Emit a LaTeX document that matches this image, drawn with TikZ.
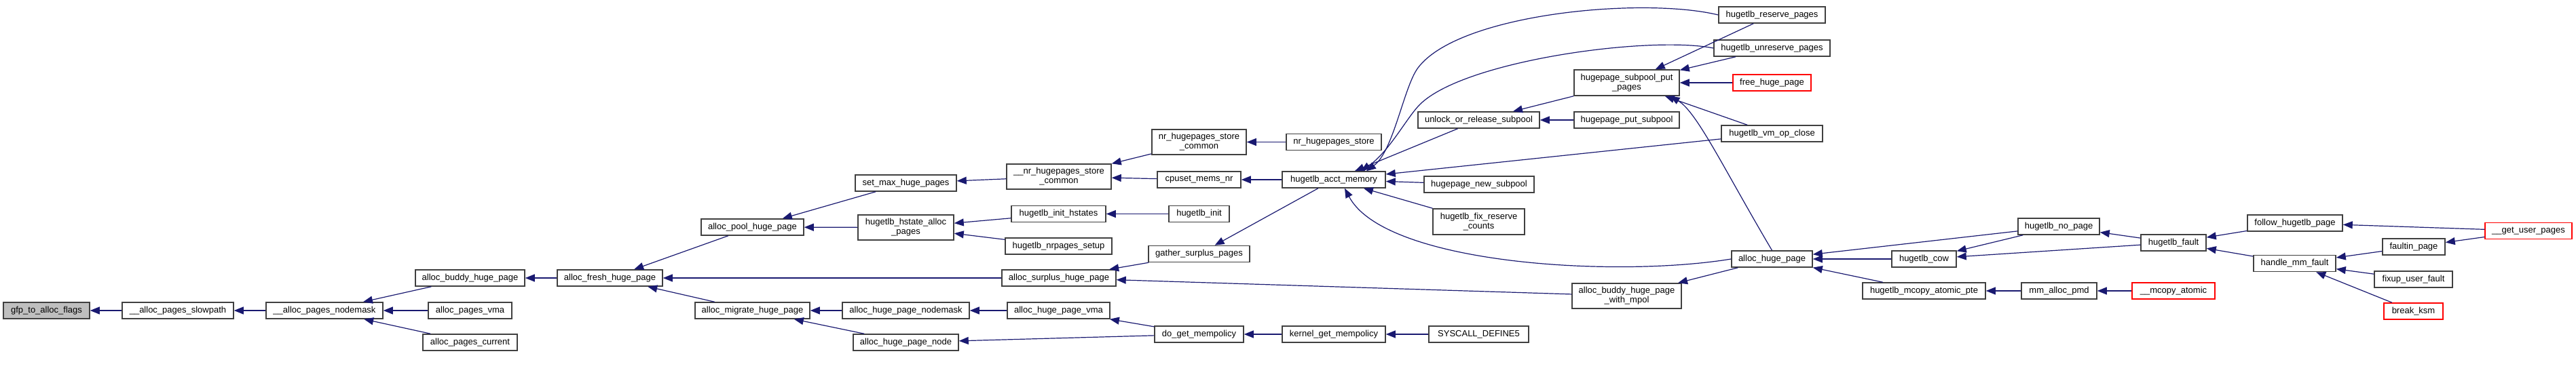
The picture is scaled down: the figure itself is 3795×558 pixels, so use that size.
\documentclass[tikz,border=0pt]{standalone}
\usepackage{fontspec}
\setmainfont{Liberation Sans}
\usepackage{tikz}
\usepackage{xcolor}
\usetikzlibrary{arrows.meta}

\definecolor{midnight}{HTML}{191970}

\begin{document}
\begin{tikzpicture}[x=1pt, y=-1pt,
    fn/.style={draw=black!75, line width=1.5pt, fill=white, inner sep=0pt,
      minimum height=24pt, align=center, font=\fontsize{13pt}{14pt}\selectfont},
    fnroot/.style={fn, fill=black!25},
    fnred/.style={fn, draw=red},
    call/.style={draw=midnight, line width=1.2pt, -{Triangle[length=14pt,width=11pt]}}]

    \useasboundingbox (0,0) rectangle (3795,558);

    % Function boxes, from the callee on the left to the callers on the right
    \node[fnroot, minimum width=127pt] (gfp) at (68.5,458) {gfp\_to\_alloc\_flags};
    \node[fn, minimum width=164pt] (slowpath) at (262,458) {\_\_alloc\_pages\_slowpath};
    \node[fn, minimum width=172pt] (nodemask) at (478,458) {\_\_alloc\_pages\_nodemask};
    \node[fn, minimum width=161pt] (buddy) at (692.5,410) {alloc\_buddy\_huge\_page};
    \node[fn, minimum width=123pt] (pvma) at (692.5,458) {alloc\_pages\_vma};
    \node[fn, minimum width=139pt] (pcurrent) at (692.5,505) {alloc\_pages\_current};
    \node[fn, minimum width=155pt] (fresh) at (898.5,410) {alloc\_fresh\_huge\_page};
    \node[fn, minimum width=151pt] (pool) at (1108.5,335) {alloc\_pool\_huge\_page};
    \node[fn, minimum width=169pt] (migrate) at (1108.5,458) {alloc\_migrate\_huge\_page};
    \node[fn, minimum width=149pt] (setmax) at (1334.5,270) {set\_max\_huge\_pages};
    \node[fn, minimum width=141pt, minimum height=37pt] (hstate) at (1334.5,335.5) {hugetlb\_hstate\_alloc\\\_pages};
    \node[fn, minimum width=187pt] (hpnodemask) at (1334.5,458) {alloc\_huge\_page\_nodemask};
    \node[fn, minimum width=155pt] (hpnode) at (1334.5,505) {alloc\_huge\_page\_node};
    \node[fn, minimum width=154pt, minimum height=37pt] (nrcommon) at (1560,260.5) {\_\_nr\_hugepages\_store\\\_common};
    \node[fn, minimum width=139pt] (inithstates) at (1559.5,315.5) {hugetlb\_init\_hstates};
    \node[fn, minimum width=157pt] (nrsetup) at (1559.5,363) {hugetlb\_nrpages\_setup};
    \node[fn, minimum width=168pt] (surplus) at (1560,410) {alloc\_surplus\_huge\_page};
    \node[fn, minimum width=151pt] (hpvma) at (1559.5,458) {alloc\_huge\_page\_vma};
    \node[fn, minimum width=139pt, minimum height=37pt] (storecommon) at (1766.5,209.5) {nr\_hugepages\_store\\\_common};
    \node[fn, minimum width=123pt] (cpuset) at (1766.5,265) {cpuset\_mems\_nr};
    \node[fn, minimum width=89pt] (hinit) at (1766.5,315.5) {hugetlb\_init};
    \node[fn, minimum width=149pt] (gather) at (1766.5,374.5) {gather\_surplus\_pages};
    \node[fn, minimum width=131pt] (dogetmp) at (1766.5,493) {do\_get\_mempolicy};
    \node[fn, minimum width=140pt] (nrstore) at (1965,209.5) {nr\_hugepages\_store};
    \node[fn, minimum width=152pt] (acct) at (1965,265) {hugetlb\_acct\_memory};
    \node[fn, minimum width=152pt] (kgetmp) at (1965,493) {kernel\_get\_mempolicy};
    \node[fn, minimum width=179pt] (unlock) at (2178.5,177) {unlock\_or\_release\_subpool};
    \node[fn, minimum width=162pt] (newsub) at (2179,272) {hugepage\_new\_subpool};
    \node[fn, minimum width=135pt, minimum height=38pt] (fixres) at (2178.5,327) {hugetlb\_fix\_reserve\\\_counts};
    \node[fn, minimum width=147pt] (syscall) at (2178.5,493) {SYSCALL\_DEFINE5};
    \node[fn, minimum width=155pt, minimum height=38pt] (putpages) at (2396.5,122) {hugepage\_subpool\_put\\\_pages};
    \node[fn, minimum width=155pt] (putsub) at (2396.5,177) {hugepage\_put\_subpool};
    \node[fn, minimum width=161pt, minimum height=37pt] (withmpol) at (2396.5,436.5) {alloc\_buddy\_huge\_page\\\_with\_mpol};
    \node[fn, minimum width=157pt] (reserve) at (2610.5,22) {hugetlb\_reserve\_pages};
    \node[fn, minimum width=171pt] (unreserve) at (2610.5,71) {hugetlb\_unreserve\_pages};
    \node[fnred, minimum width=115pt] (freehp) at (2610.5,122) {free\_huge\_page};
    \node[fn, minimum width=149pt] (vmclose) at (2610.5,197) {hugetlb\_vm\_op\_close};
    \node[fn, minimum width=119pt] (allochp) at (2610.5,382) {alloc\_huge\_page};
    \node[fn, minimum width=95pt] (cow) at (2834.5,382) {hugetlb\_cow};
    \node[fn, minimum width=181pt] (mcopypte) at (2834.5,429) {hugetlb\_mcopy\_atomic\_pte};
    \node[fn, minimum width=120pt] (nopage) at (3033,334) {hugetlb\_no\_page};
    \node[fn, minimum width=111pt] (pmd) at (3033.5,429) {mm\_alloc\_pmd};
    \node[fnred, minimum width=122pt] (mcopy) at (3202,429) {\_\_mcopy\_atomic};
    \node[fn, minimum width=96pt] (fault) at (3202,358) {hugetlb\_fault};
    \node[fn, minimum width=140pt] (follow) at (3381,329) {follow\_hugetlb\_page};
    \node[fn, minimum width=121pt] (handle) at (3380.5,388.5) {handle\_mm\_fault};
    \node[fnred, minimum width=128pt] (gup) at (3725,340.5) {\_\_get\_user\_pages};
    \node[fn, minimum width=92pt] (faultin) at (3556,364) {faultin\_page};
    \node[fn, minimum width=115pt] (fixup) at (3555.5,412) {fixup\_user\_fault};
    \node[fnred, minimum width=87pt] (ksm) at (3555.5,459) {break\_ksm};

    % Calls into the page allocator
    \draw[call] (slowpath) -- (gfp);
    \draw[call] (nodemask) -- (slowpath);
    \draw[call] (buddy) -- (nodemask);
    \draw[call] (pvma) -- (nodemask);
    \draw[call] (pcurrent) -- (nodemask);
    \draw[call] (fresh) -- (buddy);
    \draw[call] (pool) -- (fresh);
    \draw[call] (surplus) -- (fresh);
    \draw[call] (migrate) -- (fresh);
    \draw[call] (setmax) -- (pool);
    \draw[call] (hstate) -- (pool);
    \draw[call] (hpnodemask) -- (migrate);
    \draw[call] (hpnode) -- (migrate);
    \draw[call] (nrcommon) -- (setmax);
    \draw[call] (inithstates) -- (hstate);
    \draw[call] (nrsetup) -- (hstate);
    \draw[call] (gather) -- (surplus);
    \draw[call] (withmpol) -- (surplus);
    \draw[call] (hpvma) -- (hpnodemask);
    \draw[call] (dogetmp) -- (hpvma);
    \draw[call] (dogetmp) -- (hpnode);
    \draw[call] (storecommon) -- (nrcommon);
    \draw[call] (cpuset) -- (nrcommon);
    \draw[call] (hinit) -- (inithstates);
    \draw[call] (acct) -- (gather);
    \draw[call] (nrstore) -- (storecommon);
    \draw[call] (acct) -- (cpuset);
    \draw[call] (kgetmp) -- (dogetmp);
    \draw[call] (syscall) -- (kgetmp);

    % Callers of hugetlb_acct_memory
    \draw[call] (reserve.west) .. controls (2420,-5) and (2149,20) .. (2089,100)
        .. controls (2068,128) and (2053,223) .. ([xshift=48pt]acct.north);
    \draw[call] (unreserve.west) .. controls (2430,52) and (2149,90) .. (2089,157)
        .. controls (2070,178) and (2045,225) .. ([xshift=40pt]acct.north);
    \draw[call] (unlock) -- (acct);
    \draw[call] (vmclose) -- (acct);
    \draw[call] (newsub) -- (acct);
    \draw[call] (fixres) -- (acct);
    \draw[call] (allochp.west) .. controls (2380,410) and (2040,390) .. ([xshift=16pt]acct.south);

    % Subpool helpers
    \draw[call] (putpages) -- (unlock);
    \draw[call] (putsub) -- (unlock);
    \draw[call] (reserve) -- (putpages);
    \draw[call] (unreserve) -- (putpages);
    \draw[call] (freehp) -- (putpages);
    \draw[call] (vmclose) -- (putpages);
    \draw[call] (allochp.north) .. controls (2540,250) and (2500,165) .. ([xshift=64pt]putpages.south);
    \draw[call] (allochp) -- (withmpol);

    % Fault path
    \draw[call] (nopage) -- (allochp);
    \draw[call] (cow) -- (allochp);
    \draw[call] (mcopypte) -- (allochp);
    \draw[call] (nopage) -- (cow);
    \draw[call] (fault) -- (cow);
    \draw[call] (fault) -- (nopage);
    \draw[call] (pmd) -- (mcopypte);
    \draw[call] (mcopy) -- (pmd);
    \draw[call] (follow) -- (fault);
    \draw[call] (handle) -- (fault);
    \draw[call] (gup) -- (follow);
    \draw[call] (faultin) -- (handle);
    \draw[call] (fixup) -- (handle);
    \draw[call] (ksm) -- (handle);
    \draw[call] (gup) -- (faultin);
\end{tikzpicture}
\end{document}
